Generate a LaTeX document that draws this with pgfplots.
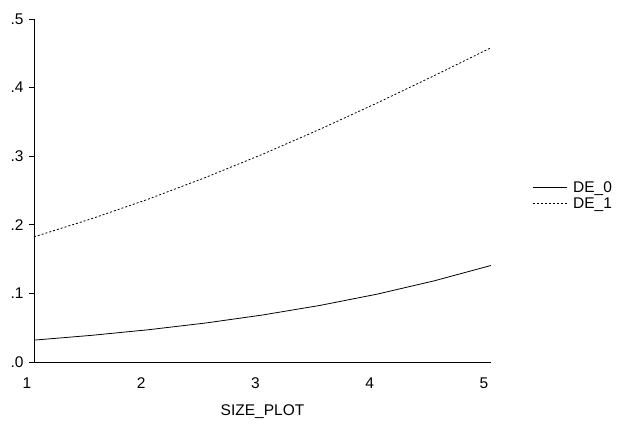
\documentclass[border=0pt]{standalone}
\usepackage{pgfplots}
\pgfplotsset{compat=1.18}
\usepackage{fontspec}
\setmainfont{Liberation Sans}
\begin{document}
\begin{tikzpicture}[x=1pt,y=1pt]
\useasboundingbox (-34,-67) rectangle (588,362);
\begin{axis}[
  at={(0,0)}, anchor=south west,
  scale only axis, width=457pt, height=343pt,
  xmin=1, xmax=5, ymin=0, ymax=0.5,
  axis x line*=bottom, axis y line*=left,
  axis line style={line width=0.9pt, -},
  xtick={1,2,3,4,5}, ytick={0,0.1,0.2,0.3,0.4,0.5},
  yticklabels={.0,.1,.2,.3,.4,.5},
  /pgf/number format/assume math mode=true,
  tick label style={font=\fontsize{15.5}{17}\selectfont},
  xticklabel style={xshift=-7pt, yshift=-7pt},
  yticklabel style={xshift=-2pt},
  major x tick style={draw=none},
  ytick style={line width=0.8pt, black},
  tick align=outside, major tick length=5pt,
  xlabel={SIZE\_PLOT},
  xlabel style={font=\fontsize{15.5}{17}\selectfont, yshift=-9pt},
  legend style={at={(1.09,0.485)}, anchor=west, draw=none, fill=none,
    font=\fontsize{15.5}{17}\selectfont, row sep=3pt, inner xsep=0pt,
    inner ysep=0pt,
    /tikz/every odd column/.append style={column sep=4pt},
    nodes={inner ysep=0.5pt}},
  legend cell align=left,
  legend image code/.code={\draw[#1] (0pt,0pt) -- (34pt,0pt);},
]
\addplot[black, line width=0.8pt] coordinates {
(1,0.0319) (1.5,0.0388) (2,0.0470) (2.5,0.0568) (3,0.0685) (3.5,0.0824) (4,0.0988) (4.5,0.1182) (5,0.1407)};
\addlegendentry{DE\_0}
\addplot[black, line width=0.8pt, dash pattern=on 2pt off 2pt] coordinates {
(1,0.1824) (1.5,0.2086) (2,0.2374) (2.5,0.2689) (3,0.3028) (3.5,0.3391) (4,0.3773) (4.5,0.4172) (5,0.4581)};
\addlegendentry{DE\_1}
\end{axis}
\end{tikzpicture}
\end{document}
